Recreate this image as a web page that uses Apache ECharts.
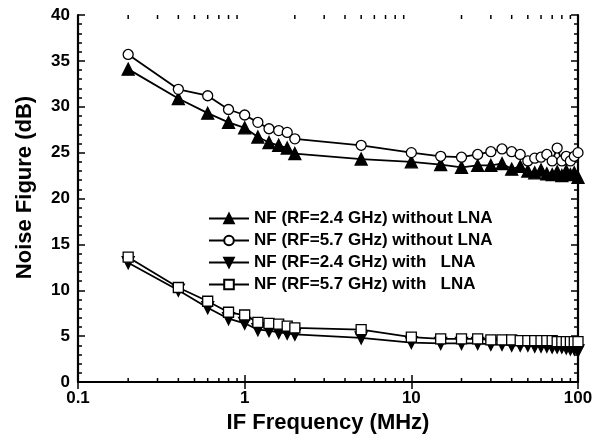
<!DOCTYPE html>
<html>
<head>
<meta charset="utf-8">
<script src="https://cdn.jsdelivr.net/npm/echarts@6/dist/echarts.min.js"></script>
<style>html,body{margin:0;padding:0;background:#fff}#c{width:599px;height:441px}</style>
</head>
<body>
<div id="c"></div>
<script>
var freq = [0.2,0.4,0.6,0.8,1,1.2,1.4,1.6,1.8,2,5,10,15,20,25,30,35,40,45,50,55,60,65,70,75,80,85,90,95,100];
var nf24NoLNA = [34.1,30.9,29.3,28.3,27.7,26.7,26.1,25.8,25.5,24.9,24.3,24.0,23.7,23.4,23.6,23.6,23.8,23.2,23.5,23.0,22.8,23.1,22.7,22.6,22.9,22.5,23.0,22.6,22.8,22.3];
var nf57NoLNA = [35.7,31.9,31.2,29.7,29.1,28.3,27.6,27.4,27.2,26.5,25.8,25.0,24.6,24.5,24.8,25.1,25.4,25.1,24.8,24.1,24.4,24.5,24.8,24.1,25.5,24.1,24.6,24.1,24.6,25.0];
var nf24LNA = [13.0,10.0,8.1,6.9,6.4,5.7,5.6,5.4,5.3,5.2,4.8,4.3,4.2,4.2,4.2,4.1,4.1,4.0,4.0,4.0,3.9,3.9,3.9,3.8,3.8,3.8,3.7,3.6,3.6,3.4];
var nf57LNA = [13.6,10.3,8.8,7.6,7.3,6.5,6.4,6.3,6.1,5.9,5.7,4.9,4.7,4.7,4.7,4.6,4.6,4.6,4.5,4.5,4.5,4.5,4.5,4.5,4.4,4.4,4.4,4.4,4.4,4.4];
var names = ['NF (RF=2.4 GHz) without LNA','NF (RF=5.7 GHz) without LNA','NF (RF=2.4 GHz) with   LNA','NF (RF=5.7 GHz) with   LNA'];
var minorX = [0.2,0.3,0.4,0.5,0.6,0.7,0.8,0.9,2,3,4,5,6,7,8,9,20,30,40,50,60,70,80,90];
var xMin = 0.1, xMax = 100, yMin = 0, yMax = 40;

function pairs(ys){ return freq.map(function(f,i){ return [f, ys[i]]; }); }
var FONT = '"Liberation Sans", Arial, sans-serif';

function mk(name, ys, symbol, fill, rotate, size){
  return {
    name: name, type: 'line', data: pairs(ys),
    symbol: symbol, symbolSize: size, symbolRotate: rotate || 0,
    showSymbol: true,
    lineStyle: {color: '#000', width: 1.8},
    itemStyle: {color: fill, borderColor: '#000', borderWidth: 1.3},
    animation: false, z: 3
  };
}

var chart = echarts.init(document.getElementById('c'), null, {renderer: 'canvas'});
var axisCommon = {
  axisLine: {show: true, lineStyle: {color: '#000', width: 2.2}},
  splitLine: {show: false}
};
chart.setOption({
  backgroundColor: '#fff',
  animation: false,
  grid: {left: 78, right: 21, top: 15, bottom: 59},
  legend: {
    orient: 'vertical', left: 203, top: 205,
    itemWidth: 40, itemHeight: 12, itemGap: 5,
    data: names,
    textStyle: {fontFamily: FONT, fontWeight: 'bold', fontSize: 17, color: '#000'}
  },
  xAxis: [
    Object.assign({
      type: 'log', logBase: 10, min: xMin, max: xMax, position: 'bottom',
      name: 'IF Frequency (MHz)', nameLocation: 'middle', nameGap: 30,
      nameTextStyle: {fontFamily: FONT, fontWeight: 'bold', fontSize: 22, color: '#000'},
      axisTick: {show: true, inside: true, length: 7, lineStyle: {color: '#000', width: 1.5}},
      axisLabel: {fontFamily: FONT, fontWeight: 'bold', fontSize: 17, color: '#000', margin: 8}
    }, axisCommon),
    Object.assign({
      type: 'log', logBase: 10, min: xMin, max: xMax, position: 'top',
      axisTick: {show: true, inside: true, length: 7, lineStyle: {color: '#000', width: 1.5}},
      axisLabel: {show: false}
    }, axisCommon)
  ],
  yAxis: [
    Object.assign({
      type: 'value', min: yMin, max: yMax, interval: 5, position: 'left',
      name: 'Noise Figure (dB)', nameLocation: 'middle', nameGap: 42,
      nameTextStyle: {fontFamily: FONT, fontWeight: 'bold', fontSize: 22, color: '#000', padding: [0,0,0,22]},
      axisTick: {show: true, inside: true, length: 7, lineStyle: {color: '#000', width: 1.5}},
      minorTick: {show: true, splitNumber: 5, length: 4, lineStyle: {color: '#000', width: 1.5}},
      axisLabel: {fontFamily: FONT, fontWeight: 'bold', fontSize: 17, color: '#000', margin: 8}
    }, axisCommon),
    Object.assign({
      type: 'value', min: yMin, max: yMax, interval: 5, position: 'right',
      axisTick: {show: true, inside: true, length: 7, lineStyle: {color: '#000', width: 1.5}},
      minorTick: {show: true, splitNumber: 5, length: 4, lineStyle: {color: '#000', width: 1.5}},
      axisLabel: {show: false}
    }, axisCommon)
  ],
  series: [
    {
      type: 'custom', silent: true, clip: false, z: 1,
      data: minorX.map(function(v){ return [v]; }),
      encode: {x: 0},
      renderItem: function(params, api){
        var v = api.value(0);
        var b = api.coord([v, yMin]);
        var t = api.coord([v, yMax]);
        return {type: 'group', children: [
          {type: 'line', shape: {x1: b[0], y1: b[1], x2: b[0], y2: b[1]-4}, style: {stroke: '#000', lineWidth: 1.5}},
          {type: 'line', shape: {x1: t[0], y1: t[1], x2: t[0], y2: t[1]+4}, style: {stroke: '#000', lineWidth: 1.5}}
        ]};
      }
    },
    mk(names[0], nf24NoLNA, 'triangle', '#000', 0, 12),
    mk(names[1], nf57NoLNA, 'circle', '#fff', 0, 10),
    mk(names[2], nf24LNA, 'triangle', '#000', 180, 12),
    mk(names[3], nf57LNA, 'rect', '#fff', 0, 10)
  ]
});
</script>
</body>
</html>
